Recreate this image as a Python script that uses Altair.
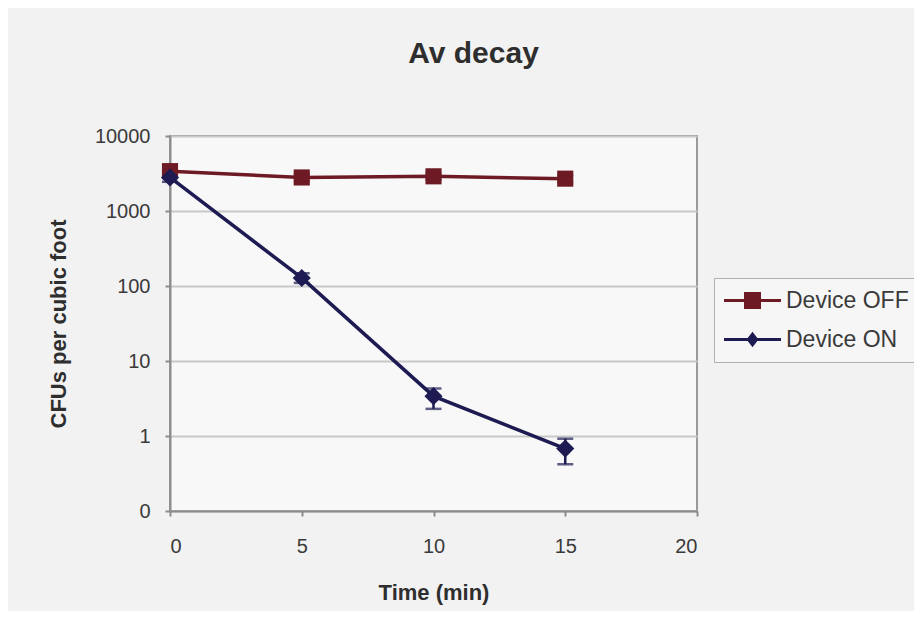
import altair as alt
import pandas as pd

# ---- data ----
time_min = [0, 5, 10, 15]
series_names = ["Device OFF", "Device ON"]
off_cfu = [3400, 2800, 2900, 2700]
off_lo = [3050, 2500, 2600, 2420]
off_hi = [3750, 3100, 3200, 2980]
on_cfu = [2800, 128, 3.4, 0.68]
on_lo = [2450, 110, 2.3, 0.42]
on_hi = [3150, 148, 4.3, 0.92]
y_ticks = [0.1, 1, 10, 100, 1000, 10000]
x_ticks = [0, 5, 10, 15, 20]

rows = []
for t, v, lo, hi in zip(time_min, off_cfu, off_lo, off_hi):
    rows.append({"time": t, "cfu": v, "lo": lo, "hi": hi, "series": series_names[0]})
for t, v, lo, hi in zip(time_min, on_cfu, on_lo, on_hi):
    rows.append({"time": t, "cfu": v, "lo": lo, "hi": hi, "series": series_names[1]})
df = pd.DataFrame(rows)

FONT = "Liberation Sans"
colors = ["#6e1a24", "#1d1b52"]
color_scale = alt.Scale(domain=series_names, range=colors)

# legend symbols: a short line with the marker in the middle
leg_square = "M-1,-0.12H3.56V0.12H-1Z M0.6,-0.68H1.96V0.68H0.6Z"
leg_diamond = "M-1,-0.12H3.56V0.12H-1Z M1.28,-0.62L1.76,0L1.28,0.62L0.8,0Z"
shape_scale = alt.Scale(domain=series_names, range=[leg_square, leg_diamond])

x_enc = alt.X(
    "time:Q",
    scale=alt.Scale(domain=[0, 20], nice=False),
    axis=alt.Axis(
        values=x_ticks, grid=False, title="Time (min)", format="d",
        labelFontSize=20, labelPadding=20, tickSize=5,
        titleY=81, titleBaseline="middle",
    ),
)
y_enc = alt.Y(
    "cfu:Q",
    scale=alt.Scale(type="log", domain=[0.1, 10000], nice=False),
    axis=alt.Axis(
        values=y_ticks, grid=True, title="CFUs per cubic foot",
        labelExpr="datum.value < 1 ? '0' : format(datum.value, 'd')",
        labelFontSize=20, labelPadding=15, tickSize=5,
        titleX=-112, titleY=187.5, titleAngle=-90,
        titleAlign="center", titleBaseline="middle",
    ),
)

base = alt.Chart(df)
col_noleg = alt.Color("series:N", scale=color_scale, legend=None)

leg = alt.Legend(
    title=None, orient="none", legendX=544, legendY=142,
    fillColor="#f6f6f6", strokeColor="#b0b0b0", padding=10,
    labelFont=FONT, labelFontSize=23, labelColor="#3a3a3a", labelOffset=37,
    symbolSize=625, symbolOpacity=1, symbolStrokeWidth=0, rowPadding=14,
)
# legend-only layer (no visible marks: empty after filter)
legend_layer = base.transform_filter("datum.time < 0").mark_point(
    filled=True, size=625
).encode(
    x=x_enc, y=y_enc,
    color=alt.Color("series:N", scale=color_scale, legend=leg),
    shape=alt.Shape("series:N", scale=shape_scale, legend=leg),
)

lines = base.mark_line(strokeWidth=3.5).encode(x="time:Q", y="cfu:Q", color=col_noleg)
err = base.mark_rule(strokeWidth=2.5).encode(
    x="time:Q", y="lo:Q", y2="hi:Q", color=col_noleg
)
cap_lo = base.mark_tick(orient="horizontal", size=16, thickness=2.5).encode(
    x="time:Q", y="lo:Q", color=col_noleg
)
cap_hi = base.mark_tick(orient="horizontal", size=16, thickness=2.5).encode(
    x="time:Q", y="hi:Q", color=col_noleg
)
pts_off = base.transform_filter(alt.datum.series == series_names[0]).mark_point(
    filled=True, shape="square", size=260, opacity=1
).encode(x="time:Q", y="cfu:Q", color=col_noleg)
pts_on = base.transform_filter(alt.datum.series == series_names[1]).mark_point(
    filled=True, shape="diamond", size=330, opacity=1
).encode(x="time:Q", y="cfu:Q", color=col_noleg)

chart = (
    alt.layer(legend_layer, lines, err, cap_lo, cap_hi, pts_off, pts_on)
    .resolve_legend(color="independent", shape="independent")
    .properties(
        width=527, height=375,
        title=alt.TitleParams(
            "Av decay", fontSize=30, fontWeight="bold", font=FONT,
            color="#2e2e2e", anchor="middle", dx=40, offset=57,
        ),
        autosize=alt.AutoSizeParams(type="none"),
        padding={"left": 162, "top": 128, "right": 217, "bottom": 100},
        background="#f2f2f2",
    )
    .configure_view(stroke="#9a9a9a", strokeWidth=2, fill="#f8f8f8")
    .configure_axis(
        labelFont=FONT, titleFont=FONT, labelColor="#3a3a3a", titleColor="#2e2e2e",
        titleFontSize=22, titleFontWeight="bold",
        domainColor="#8c8c8c", domainWidth=2, tickColor="#8c8c8c", tickWidth=2,
        gridColor="#c8c8c8", gridWidth=2,
    )
)

chart.save("out.html", embed_options={"renderer": "svg", "actions": False})
